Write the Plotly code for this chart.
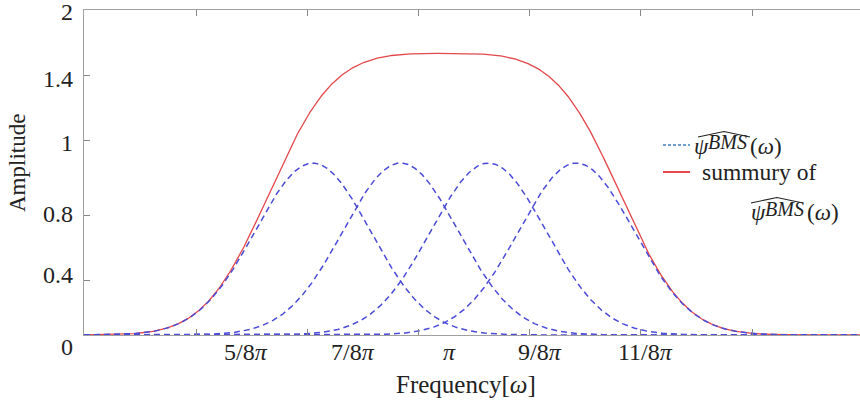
import numpy as np
import plotly.graph_objects as go

# Four band-pass spectra psi^BMS(omega): centre, peak height and spread of each lobe
BUMP_CENTERS = [2.05, 2.84, 3.63, 4.42]
BUMP_PEAK = 1.058
BUMP_WIDTH = 0.517

# Frequency axis ticks and their labels
X_TICKS = [1, 2, 3, 4, 5, 6]
X_LABELS = ["5/8<i>π</i>", "7/8<i>π</i>", "<i>π</i>", "9/8<i>π</i>", "11/8<i>π</i>"]
X_LABEL_POS = [1.450, 2.412, 3.284, 4.094, 5.042]

# Amplitude axis ticks and their labels
Y_TICKS = [0.338, 0.738, 1.196, 1.596]
Y_LABELS = ["0", "0.4", "0.8", "1", "1.4", "2"]
Y_LABEL_POS = [-0.072, 0.369, 0.745, 1.182, 1.578, 1.985]

X_RANGE = [-0.0072, 6.971]
Y_RANGE = [0, 2]

W, H = 860, 401
L, R, T, B = 84, 860, 10, 335

FONT = "Liberation Serif"
TXT = "#222222"
BLUE = "#4b4bd8"
RED = "#e4474b"


def px_x(px):
    return (px - L) / (R - L)


def px_y(py):
    return (B - py) / (B - T)


def val_y(v):
    return (v - Y_RANGE[0]) / (Y_RANGE[1] - Y_RANGE[0])


omega = np.linspace(X_RANGE[0], X_RANGE[1], 1200)
bumps = [BUMP_PEAK * np.exp(-((omega - c) ** 2) / (2 * BUMP_WIDTH ** 2)) for c in BUMP_CENTERS]
total = np.sum(bumps, axis=0)

fig = go.Figure()

fig.add_trace(go.Scatter(x=omega, y=total, mode="lines",
                         line=dict(color=RED, width=1.3), showlegend=False))
for b in bumps:
    fig.add_trace(go.Scatter(x=omega, y=b, mode="lines",
                             line=dict(color=BLUE, width=1.5, dash="6px,4px"),
                             showlegend=False))

annotations = []


def text(x, y, s, size, anchor="left", angle=0):
    annotations.append(dict(x=px_x(x), y=px_y(y), xref="paper", yref="paper", text=s,
                            showarrow=False, xanchor=anchor, yanchor="middle",
                            textangle=angle, borderpad=0,
                            font=dict(family=FONT, size=size, color=TXT)))


for pos, lab in zip(X_LABEL_POS, X_LABELS):
    annotations.append(dict(x=pos, y=px_y(352), xref="x", yref="paper", text=lab,
                            showarrow=False, xanchor="center", yanchor="middle",
                            font=dict(family=FONT, size=24, color=TXT)))
for pos, lab in zip(Y_LABEL_POS, Y_LABELS):
    annotations.append(dict(x=px_x(75), y=val_y(pos), xref="paper", yref="paper", text=lab,
                            showarrow=False, xanchor="right", yanchor="middle",
                            font=dict(family=FONT, size=24, color=TXT)))

# axis titles
text(466, 384, "Frequency[<i>ω</i>]", 25, anchor="center")
text(18, 163, "Amplitude", 23, anchor="center", angle=-90)


# legend text: psi^BMS(omega) built from pieces so the superscript sits under a wide hat
def psi_label(x, y, y_sup):
    text(x, y, "<i>ψ</i>", 23)
    text(x + 14, y_sup, "<i>BMS</i>", 20)
    text(x + 56, y, "(<i>ω</i>)", 23)


psi_label(693, 146, 141.5)
text(701, 171.7, "summury of", 23.5)
psi_label(750, 212.5, 208.5)

shapes = [
    # legend samples
    dict(type="line", xref="paper", yref="paper", x0=px_x(663), x1=px_x(690),
         y0=px_y(145), y1=px_y(145), line=dict(color="#3d7fc0", width=1.5, dash="3px,2px")),
    dict(type="line", xref="paper", yref="paper", x0=px_x(663), x1=px_x(690),
         y0=px_y(172), y1=px_y(172), line=dict(color="#e01b1b", width=1.6)),
]
# wide hats over psi^BMS
for x0, x1, ytop, ybase in [(698, 750, 131.5, 137), (751, 803, 197.5, 203)]:
    xm = (x0 + x1) / 2
    path = "M {:.5f},{:.5f} L {:.5f},{:.5f} L {:.5f},{:.5f}".format(
        px_x(x0), px_y(ybase), px_x(xm), px_y(ytop), px_x(x1), px_y(ybase))
    shapes.append(dict(type="path", xref="paper", yref="paper", path=path,
                       line=dict(color=TXT, width=1.1)))

fig.update_layout(
    width=W, height=H,
    margin=dict(l=L, r=W - R, t=T, b=H - B, pad=0),
    paper_bgcolor="white", plot_bgcolor="white",
    showlegend=False,
    annotations=annotations,
    shapes=shapes,
    xaxis=dict(range=X_RANGE, tickvals=X_TICKS, showticklabels=False,
               ticks="inside", ticklen=6, tickcolor="#888", tickwidth=1,
               showline=True, linecolor="#a0a0a0", linewidth=1, mirror="ticks",
               showgrid=False, zeroline=False),
    yaxis=dict(range=Y_RANGE, tickvals=Y_TICKS, showticklabels=False,
               ticks="inside", ticklen=6, tickcolor="#888", tickwidth=1,
               showline=True, linecolor="#a0a0a0", linewidth=1, mirror=False,
               showgrid=False, zeroline=False),
)

fig.write_html("out.html")
